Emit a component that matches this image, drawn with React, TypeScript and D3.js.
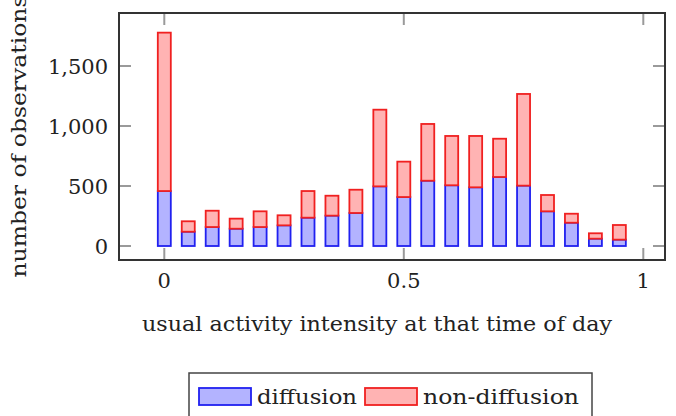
import React from 'react';
import * as d3 from 'd3';

// bin centres on the x axis
const bins = [0, 0.05, 0.1, 0.15, 0.2, 0.25, 0.3, 0.35, 0.4, 0.45, 0.5, 0.55, 0.6, 0.65, 0.7, 0.75, 0.8, 0.85, 0.9, 0.95];
// stacked counts per bin
const diffusion = [458, 119, 158, 144, 158, 172, 236, 253, 275, 497, 408, 544, 506, 489, 575, 503, 289, 194, 61, 53];
const nonDiffusion = [1320, 87, 136, 84, 131, 84, 222, 166, 194, 639, 295, 473, 411, 428, 319, 764, 136, 75, 45, 122];

const xTicks = [0, 0.5, 1];
const yTicks = [0, 500, 1000, 1500];

const seriesNames = ['diffusion', 'non-diffusion'];

const FONT = 'DejaVu Serif';

const frame = { left: 119, right: 665, top: 13, bottom: 260 };

export default function App() {
  const x = d3.scaleLinear().domain([0, 1]).range([164.3, 643.3]);
  const y = d3.scaleLinear().domain([0, 1500]).range([246, 66]);
  const barW = 13;
  const tickLen = 12;
  const fmt = d3.format(',');

  const stacked = bins.map((b, i) => ({
    b,
    d: diffusion[i],
    total: diffusion[i] + nonDiffusion[i],
  }));

  const colors = {
    diffusion: { fill: '#b3b3ff', stroke: '#2020f0' },
    nonDiffusion: { fill: '#ffb3b3', stroke: '#f02020' },
  };

  return (
    <svg width={676} height={416} style={{ position: 'absolute', left: 0, top: 0, background: '#fff' }}>
      {/* bars */}
      {stacked.map((s) => (
        <g key={s.b}>
          <rect
            x={x(s.b) - barW / 2}
            y={y(s.d)}
            width={barW}
            height={y(0) - y(s.d)}
            fill={colors.diffusion.fill}
            stroke={colors.diffusion.stroke}
            strokeWidth={1.8}
          />
          <rect
            x={x(s.b) - barW / 2}
            y={y(s.total)}
            width={barW}
            height={y(s.d) - y(s.total)}
            fill={colors.nonDiffusion.fill}
            stroke={colors.nonDiffusion.stroke}
            strokeWidth={1.8}
          />
        </g>
      ))}

      {/* ticks on all four sides */}
      <g stroke="#9a9a9a" strokeWidth={2}>
        {xTicks.map((t) => (
          <g key={'x' + t}>
            <line x1={x(t)} x2={x(t)} y1={frame.bottom} y2={frame.bottom - tickLen} />
            <line x1={x(t)} x2={x(t)} y1={frame.top} y2={frame.top + tickLen} />
          </g>
        ))}
        {yTicks.map((t) => (
          <g key={'y' + t}>
            <line x1={frame.left} x2={frame.left + tickLen} y1={y(t)} y2={y(t)} />
            <line x1={frame.right} x2={frame.right - tickLen} y1={y(t)} y2={y(t)} />
          </g>
        ))}
      </g>

      <rect
        x={frame.left}
        y={frame.top}
        width={frame.right - frame.left}
        height={frame.bottom - frame.top}
        fill="none"
        stroke="#333"
        strokeWidth={2}
      />

      {/* tick labels */}
      <g fontFamily={FONT} fontSize={21} fill="#222">
        {xTicks.map((t) => (
          <text key={'xl' + t} x={x(t)} y={288} textAnchor="middle">
            {String(t)}
          </text>
        ))}
        {yTicks.map((t) => (
          <text key={'yl' + t} x={108} y={y(t) + 8} textAnchor="end">
            {fmt(t)}
          </text>
        ))}
        <text x={377} y={331} textAnchor="middle" textLength={470} lengthAdjust="spacingAndGlyphs">
          usual activity intensity at that time of day
        </text>
        <text
          transform={`translate(26,${(frame.top + frame.bottom) / 2}) rotate(-90)`}
          textAnchor="middle"
          textLength={282}
          lengthAdjust="spacingAndGlyphs"
        >
          number of observations
        </text>
      </g>

      {/* legend */}
      <g fontFamily={FONT} fontSize={21} fill="#222">
        <rect x={189} y={373} width={403} height={60} fill="#fff" stroke="#444" strokeWidth={1.5} />
        <rect x={199} y={388} width={52} height={17} fill={colors.diffusion.fill} stroke={colors.diffusion.stroke} strokeWidth={1.8} />
        <text x={257} y={404} textLength={100} lengthAdjust="spacingAndGlyphs">{seriesNames[0]}</text>
        <rect x={365} y={388} width={52} height={17} fill={colors.nonDiffusion.fill} stroke={colors.nonDiffusion.stroke} strokeWidth={1.8} />
        <text x={423} y={404} textLength={156} lengthAdjust="spacingAndGlyphs">{seriesNames[1]}</text>
      </g>
    </svg>
  );
}
